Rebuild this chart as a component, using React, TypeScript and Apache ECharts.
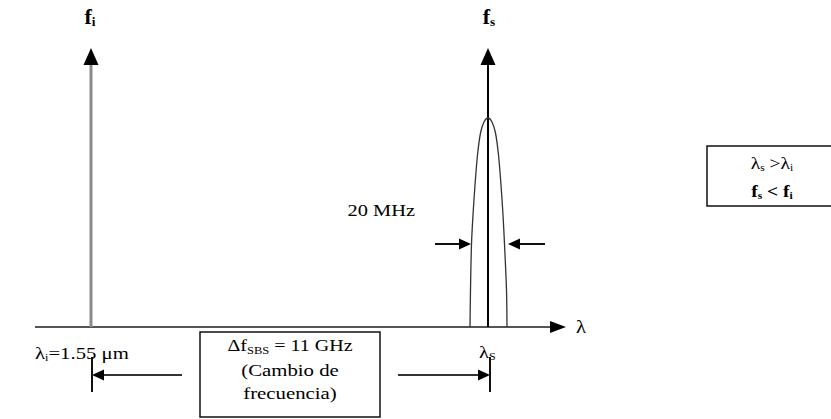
import { useEffect, useRef } from 'react';
import * as echarts from 'echarts';

const W = 831;
const H = 419;
const SERIF = '"Liberation Serif", "DejaVu Serif", serif';

// Diagram layout values (horizontal position, vertical position)
const lambdaAxis: number[][] = [[35, 327, 566, 327]]; // x1, y1, x2 (arrow tip), y2
const pumpSpike: number[][] = [[91, 327, 91, 48]]; // λi pump line
const stokesSpike: number[][] = [[488, 327, 488, 48]]; // λS Stokes line
const stokesCurve: number[][] = [
  [470, 327], [470.5, 290], [471.5, 244], [473, 215], [475, 185], [477.5, 155],
  [480.5, 133], [484, 122], [488, 118], [492, 122], [495.5, 133], [498.5, 155],
  [501, 185], [503, 215], [504.5, 244], [506.5, 290], [507, 327],
];
const widthArrows: number[][] = [[435, 244, 471, 244], [545, 244, 508, 244]];
const shiftArrows: number[][] = [[182, 375, 92, 375], [398, 375, 490, 375]];
const shiftTicks: number[][] = [[92, 357, 92, 392], [490, 357, 490, 392]];

function arrowSeries(name: string, data: number[][], color: string, lw: number, head: number, headW: number, withHead = true) {
  return {
    type: 'custom',
    name,
    coordinateSystem: 'cartesian2d',
    silent: true,
    clip: false,
    data,
    renderItem: (_p: any, api: any) => {
      const a = api.coord([api.value(0), api.value(1)]);
      const b = api.coord([api.value(2), api.value(3)]);
      const dx = b[0] - a[0];
      const dy = b[1] - a[1];
      const len = Math.sqrt(dx * dx + dy * dy) || 1;
      const ux = dx / len;
      const uy = dy / len;
      const children: any[] = [];
      const end = withHead ? [b[0] - ux * (head - 2), b[1] - uy * (head - 2)] : b;
      children.push({
        type: 'line',
        shape: { x1: a[0], y1: a[1], x2: end[0], y2: end[1] },
        style: { stroke: color, lineWidth: lw },
      });
      if (withHead) {
        const bx = b[0] - ux * head;
        const by = b[1] - uy * head;
        const nx = -uy;
        const ny = ux;
        children.push({
          type: 'polygon',
          shape: {
            points: [
              [b[0], b[1]],
              [bx + (nx * headW) / 2, by + (ny * headW) / 2],
              [bx - (nx * headW) / 2, by - (ny * headW) / 2],
            ],
          },
          style: { fill: '#000' },
        });
      }
      return { type: 'group', children };
    },
  };
}

const baseRich = (size: number, bold = false) => ({
  m: { fontFamily: SERIF, fontSize: size, fontWeight: bold ? 'bold' : 'normal', fill: '#000', lineHeight: size + 2 },
  s: { fontFamily: SERIF, fontSize: Math.round(size * 0.6), fontWeight: bold ? 'bold' : 'normal', fill: '#000', lineHeight: Math.round(size * 0.6), verticalAlign: 'bottom' },
});

function txt(x: number, y: number, text: string, size: number, align = 'center', bold = false, sx = 1.2) {
  return {
    type: 'text',
    x,
    y,
    scaleX: sx,
    silent: true,
    style: {
      text,
      rich: baseRich(size, bold),
      align,
      verticalAlign: 'middle',
      font: `${size}px ${SERIF}`,
      fill: '#000',
    },
  };
}

export default function App() {
  const ref = useRef<HTMLDivElement>(null);
  useEffect(() => {
    if (!ref.current) return;
    const chart = echarts.init(ref.current, null, { renderer: 'svg' });
    chart.setOption({
      animation: false,
      backgroundColor: '#fff',
      grid: { left: 0, right: 0, top: 0, bottom: 0 },
      xAxis: { type: 'value', min: 0, max: W, show: false },
      yAxis: { type: 'value', min: 0, max: H, inverse: true, show: false },
      series: [
        arrowSeries('axis', lambdaAxis, '#555', 2, 16, 12),
        arrowSeries('pump', pumpSpike, '#8a8a8a', 3, 17, 15),
        {
          type: 'line',
          name: 'stokes-curve',
          data: stokesCurve,
          smooth: 0.3,
          showSymbol: false,
          silent: true,
          lineStyle: { color: '#333', width: 1.3 },
        },
        arrowSeries('stokes', stokesSpike, '#000', 2, 17, 15),
        arrowSeries('width', widthArrows, '#111', 2, 12, 11),
        arrowSeries('shift', shiftArrows, '#333', 2, 12, 11),
        arrowSeries('ticks', shiftTicks, '#111', 2, 0, 0, false),
      ],
      graphic: [
        txt(90, 17, '{m|f}{s|i}', 20, 'center', true, 1.1),
        txt(489, 17, '{m|f}{s|s}', 20, 'center', true, 1.1),
        txt(576, 327, '{m|λ}', 18, 'left', false, 1.15),
        txt(415, 210, '{m|20 MHz}', 17, 'right', false, 1.2),
        txt(35, 353, '{m|λ}{s|i}{m|=1.55 μm}', 17, 'left', false, 1.22),
        txt(479, 352, '{m|λ}{s|S}', 17, 'left', false, 1.2),
        {
          type: 'rect',
          shape: { x: 200, y: 332, width: 180, height: 85 },
          style: { fill: '#fff', stroke: '#111', lineWidth: 1.5 },
          silent: true,
        },
        txt(290, 346, '{m|Δf}{s|SBS}{m| = 11 GHz}', 16, 'center', false, 1.25),
        txt(290, 370, '{m|(Cambio de}', 16, 'center', false, 1.3),
        txt(290, 393, '{m|frecuencia)}', 16, 'center', false, 1.3),
        {
          type: 'rect',
          shape: { x: 707, y: 146, width: 135, height: 60 },
          style: { fill: '#fff', stroke: '#111', lineWidth: 1.5 },
          silent: true,
        },
        txt(772, 163, '{m|λ}{s|s}{m| >λ}{s|i}', 17, 'center', false, 1.15),
        txt(772, 191, '{m|f}{s|s}{m| < f}{s|i}', 17, 'center', true, 1.15),
      ],
    });
    return () => chart.dispose();
  }, []);
  return <div ref={ref} style={{ position: 'absolute', left: 0, top: 0, width: W, height: H }} />;
}
